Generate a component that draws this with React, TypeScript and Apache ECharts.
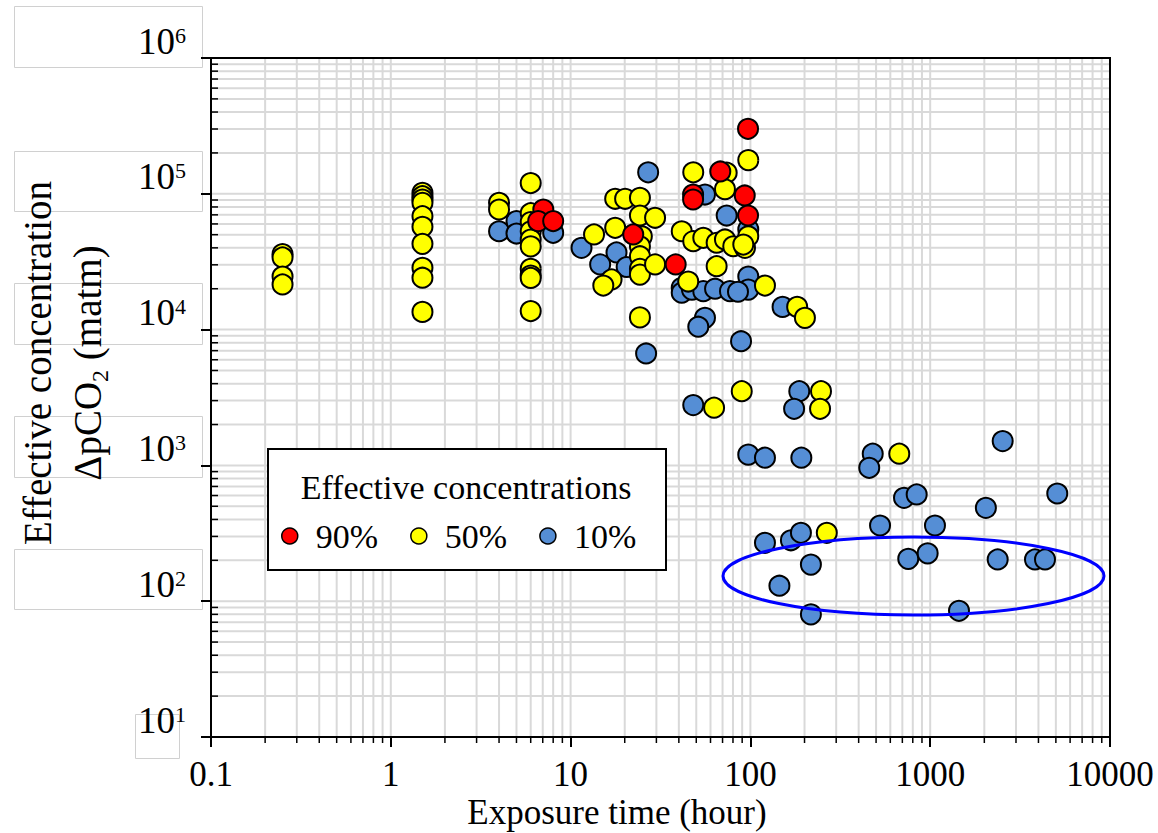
import React, { useEffect, useRef } from 'react';
import * as echarts from 'echarts';

const FONT = '"Liberation Serif", "Times New Roman", serif';
const GRID = '#d9d9d9';

const seriesNames = ['90%', '50%', '10%'];
const seriesColors = ['#ff0000', '#ffff00', '#558ed5'];

// [exposure time (hour), effective concentration ΔpCO2 (µatm)]
const red90: number[][] = [
  [7.05, 76600], [6.6, 62900], [8.0, 63000], [22.3, 50200], [38.4, 30200],
  [48, 98800], [48, 90800], [68, 146000], [93, 97200], [97, 301000], [97, 69200],
];

const yellow50: number[][] = [
  [0.25, 36000], [0.25, 34000], [0.25, 24600], [0.25, 21500],
  [1.5, 101600], [1.5, 96000], [1.5, 90800], [1.5, 85900], [1.5, 68400], [1.5, 57100],
  [1.5, 42800], [1.5, 28500], [1.5, 24100], [1.5, 13500],
  [4, 85900], [4, 76600],
  [6, 120000], [6, 72000], [6, 62000], [6, 53000], [6, 46000], [6, 41000], [6, 28000],
  [6, 25000], [6, 24000], [6, 13700],
  [13.5, 50200], [17.7, 56200], [17.7, 91900], [20.1, 91900], [24.3, 93400], [24.3, 69200],
  [29.5, 66600], [24.9, 48700], [24.3, 41100], [24.3, 34700], [24.3, 28000], [24.3, 25400],
  [29.5, 30200], [16.9, 23400], [15.2, 21100], [24.3, 12300],
  [48.1, 144000], [73.8, 143000], [72.2, 108000], [97.3, 177000], [41.5, 53000], [48.1, 44800],
  [54.7, 47400], [64.9, 43600], [72.2, 46100], [80.3, 41100], [93.3, 40000], [97.3, 48700],
  [91.3, 42300], [64.9, 29300], [45.1, 22600], [120.5, 21100], [182, 14700], [201, 12200],
  [89.5, 3520], [62.8, 2660], [247, 3520], [244, 2610], [673, 1220], [266, 319],
];

const blue10: number[][] = [
  [4, 53000], [5, 62900], [5, 51000], [8, 51600], [11.5, 40000], [14.6, 30200], [18, 37000],
  [20.5, 28900], [27, 144000], [26.3, 6670], [55.9, 98800], [73.8, 69200], [97.3, 54600],
  [97.3, 24600], [97.3, 19700], [41.5, 20300], [41.5, 18700], [47.3, 19700], [54.7, 19200],
  [63.6, 20000], [77, 19200], [85.3, 19000], [151, 14700], [55.9, 12200], [51.3, 10500],
  [88.7, 8210], [48.1, 2780], [187, 3520], [175, 2610], [97.3, 1200], [120.5, 1140], [192, 1140],
  [479, 1220], [458, 960], [2530, 1510], [715, 577], [841, 611], [2040, 487], [5090, 621],
  [526, 361], [1063, 361], [120.5, 269], [168, 281], [191, 319], [217, 186], [145, 130],
  [755, 205], [968, 225], [2373, 203], [3827, 203], [4350, 203], [217, 80], [1446, 85],
];

const xTickLabels = ['0.1', '1', '10', '100', '1000', '10000'];
const yTickExponents = [1, 2, 3, 4, 5, 6];
const xMin = 0.1;
const xMax = 10000;
const yMin = 10;
const yMax = 1000000;
const xDecadeStarts = [0.1, 1, 10, 100, 1000];
const yDecadeStarts = [10, 100, 1000, 10000, 100000];
const minorSteps = [2, 3, 4, 5, 6, 7, 8, 9];

function gridValues(starts: number[]): number[][] {
  const out: number[][] = [];
  starts.forEach((d, i) => {
    if (i > 0) out.push([d, 1]);
    minorSteps.forEach((k) => out.push([Number((d * k).toPrecision(6)), 0]));
  });
  return out;
}

function buildOption(): any {
  const xGrid = gridValues(xDecadeStarts).map(([v, m]) => [v, yMin, m]);
  const yGrid = gridValues(yDecadeStarts).map(([v, m]) => [xMin, v, m]);

  const scatterData = [red90, yellow50, blue10];
  const scatterSeries = [2, 1, 0].map((i, order) => ({
    name: seriesNames[i],
    type: 'scatter',
    z: 2 + order,
    symbol: 'circle',
    symbolSize: 20,
    itemStyle: { color: seriesColors[i], borderColor: '#000', borderWidth: 2, opacity: 1 },
    data: scatterData[i],
    silent: true,
  }));

  return {
    animation: false,
    backgroundColor: '#fff',
    grid: {
      left: 211, top: 58, width: 899, height: 679,
      show: true, borderColor: '#000', borderWidth: 2, backgroundColor: 'transparent',
    },
    xAxis: {
      type: 'log', logBase: 10, min: xMin, max: xMax,
      axisLine: { show: true, onZero: false, lineStyle: { color: '#000', width: 2 } },
      axisTick: { show: true, inside: false, length: 10, lineStyle: { color: '#000', width: 2 } },
      axisLabel: {
        show: true, margin: 20, color: '#000', fontSize: 35, fontFamily: FONT,
        showMinLabel: true, showMaxLabel: true,
        formatter: (v: number) => {
          const e = Math.round(Math.log10(v));
          return xTickLabels[e + 1] ?? '';
        },
      },
      splitLine: { show: false },
      minorTick: { show: false },
      minorSplitLine: { show: false },
    },
    yAxis: {
      type: 'log', logBase: 10, min: yMin, max: yMax,
      axisLine: { show: true, onZero: false, lineStyle: { color: '#000', width: 2 } },
      axisTick: { show: true, inside: false, length: 10, lineStyle: { color: '#000', width: 2 } },
      axisLabel: {
        show: true, margin: 25, verticalAlign: 'bottom', align: 'right',
        showMinLabel: true, showMaxLabel: true,
        formatter: (v: number) => {
          const e = Math.round(Math.log10(v));
          return yTickExponents.indexOf(e) >= 0 ? `{b|10}{s|${e}}` : '';
        },
        rich: {
          b: { fontSize: 37, fontFamily: FONT, color: '#000', lineHeight: 34 },
          s: { fontSize: 22, fontFamily: FONT, color: '#000', lineHeight: 22, verticalAlign: 'top' },
        },
      },
      splitLine: { show: false },
      minorTick: { show: false },
      minorSplitLine: { show: false },
    },
    legend: {
      data: ['90%', '50%', '10%'],
      orient: 'horizontal',
      left: 281, top: 518, padding: 0,
      itemWidth: 16, itemHeight: 16, itemGap: 32,
      icon: 'circle',
      selectedMode: false,
      itemStyle: { borderColor: '#000', borderWidth: 1.5 },
      textStyle: { fontSize: 34, fontFamily: FONT, color: '#000', padding: [0, 0, 0, 13], lineHeight: 36 },
      z: 6,
    },
    graphic: [
      // white label boxes at the left
      ...[[14, 6, 188, 61], [14, 151, 188, 60], [14, 283, 188, 61], [14, 416, 188, 61], [14, 549, 188, 60], [135, 714, 44, 44]].map((b) => ({
        type: 'rect', z: -1, silent: true,
        shape: { x: b[0] + 0.5, y: b[1] + 0.5, width: b[2], height: b[3] },
        style: { fill: '#fff', stroke: '#d0d0d0', lineWidth: 1 },
      })),
      // y axis title
      {
        type: 'text', z: 10, silent: true,
        x: 62, y: 363, rotation: Math.PI / 2,
        style: {
          text: '{a|Effective concentration}\n{a|ΔpCO}{sub|2}{a| (matm)}',
          align: 'center', verticalAlign: 'middle', fill: '#000',
          rich: {
            a: { fontSize: 39, fontFamily: FONT, color: '#000', lineHeight: 50 },
            sub: { fontSize: 24, fontFamily: FONT, color: '#000', verticalAlign: 'bottom' },
          },
        },
      },
      // x axis title
      {
        type: 'text', z: 10, silent: true,
        x: 617, y: 812,
        style: {
          text: 'Exposure time (hour)', fontSize: 35, fontFamily: FONT, fill: '#000',
          align: 'center', verticalAlign: 'middle',
        },
      },
      // legend box
      {
        type: 'rect', z: 3, silent: true,
        shape: { x: 268, y: 449, width: 398, height: 121 },
        style: { fill: '#fff', stroke: '#000', lineWidth: 2 },
      },
      {
        type: 'text', z: 5, silent: true,
        x: 466, y: 487,
        style: {
          text: 'Effective concentrations', fontSize: 34, fontFamily: FONT, fill: '#000',
          align: 'center', verticalAlign: 'middle',
        },
      },
      // annotation ellipse
      {
        type: 'ellipse', z: 10, silent: true,
        shape: { cx: 913.5, cy: 576, rx: 190.5, ry: 39 },
        style: { fill: 'none', stroke: '#0000ff', lineWidth: 3 },
      },
    ],
    series: [
      {
        type: 'custom', name: 'xgrid', z: 1, silent: true, clip: false,
        data: xGrid,
        renderItem: (params: any, api: any) => {
          const cs = params.coordSys;
          const px = api.coord([api.value(0), yMin])[0];
          const major = api.value(2) === 1;
          const children: any[] = [
            { type: 'line', shape: { x1: px, y1: cs.y + 1, x2: px, y2: cs.y + cs.height - 1 }, style: { stroke: GRID, lineWidth: 2 } },
          ];
          if (!major) {
            children.push({ type: 'line', shape: { x1: px, y1: cs.y + cs.height, x2: px, y2: cs.y + cs.height + 6 }, style: { stroke: '#000', lineWidth: 1.5 } });
          }
          return { type: 'group', children };
        },
      },
      {
        type: 'custom', name: 'ygrid', z: 1, silent: true, clip: false,
        data: yGrid,
        renderItem: (params: any, api: any) => {
          const cs = params.coordSys;
          const py = api.coord([xMin, api.value(1)])[1];
          const major = api.value(2) === 1;
          const children: any[] = [
            { type: 'line', shape: { x1: cs.x + 1, y1: py, x2: cs.x + cs.width - 1, y2: py }, style: { stroke: GRID, lineWidth: 2 } },
          ];
          if (!major) {
            children.push({ type: 'line', shape: { x1: cs.x, y1: py, x2: cs.x + 7, y2: py }, style: { stroke: '#000', lineWidth: 1.5 } });
          }
          return { type: 'group', children };
        },
      },
      ...scatterSeries,
    ],
  };
}

export default function App() {
  const ref = useRef<HTMLDivElement>(null);
  useEffect(() => {
    document.body.style.margin = '0';
    const chart = echarts.init(ref.current as HTMLDivElement, null, { renderer: 'svg' });
    chart.setOption(buildOption());
    return () => chart.dispose();
  }, []);
  return <div ref={ref} style={{ width: 1158, height: 833 }} />;
}
